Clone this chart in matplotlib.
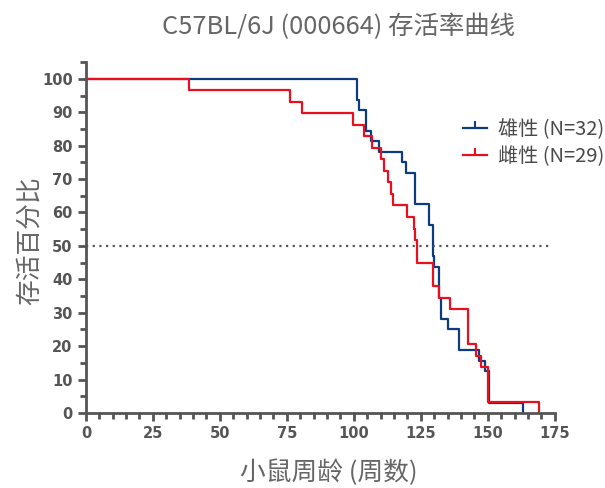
import matplotlib
matplotlib.use('Agg')
import matplotlib.pyplot as plt
from matplotlib.lines import Line2D
from matplotlib.ticker import MultipleLocator

plt.rcParams['font.family'] = ['Noto Sans CJK SC', 'DejaVu Sans']

# 雄性 (N=32): 周龄 / 存活百分比
male_weeks = [0, 101, 102, 104.7, 106.3, 109.3, 117.8, 119.6, 123, 128, 129.4, 130,
              131.8, 132.7, 135, 139.3, 146.7, 149, 150.4, 163]
male_surv = [100, 93.75, 90.6, 84.4, 81.25, 78.1, 75, 71.9, 62.5, 56.25, 46.9, 43.75,
             34.4, 28.1, 25, 18.75, 15.6, 12.5, 3.1, 0]

# 雌性 (N=29)
female_weeks = [0, 38.4, 76, 80.5, 99.7, 103.7, 106.6, 110, 111.3, 112.9, 114, 114.8,
                120, 122.4, 122.8, 123.7, 129.6, 131.7, 135.8, 142.6, 145.7, 147.4,
                149.9, 169.1]
female_surv = [100, 96.6, 93.1, 89.7, 86.2, 82.8, 79.3, 75.9, 72.4, 69.0, 65.5, 62.1,
               58.6, 55.2, 51.7, 44.8, 37.9, 34.5, 31.0, 20.7, 17.2, 13.8, 3.4, 0]

labels = ['雄性 (N=32)', '雌性 (N=29)']
colors = ['#0e3a7e', '#e8101e']
grey = '#555555'

fig = plt.figure(figsize=(6.05, 4.88), dpi=100)
ax = fig.add_axes([0.142, 0.1537, 0.775, 0.719])

ax.step(male_weeks, male_surv, where='post', color=colors[0], lw=1.6)
ax.step(female_weeks, female_surv, where='post', color=colors[1], lw=1.6)
ax.axhline(50, xmin=0, xmax=0.995, color=grey, ls=(0, (1, 2)), lw=1.6)

ax.set_xlim(0, 175)
ax.set_ylim(0, 105)
ax.xaxis.set_major_locator(MultipleLocator(25))
ax.xaxis.set_minor_locator(MultipleLocator(5))
ax.yaxis.set_major_locator(MultipleLocator(10))
ax.yaxis.set_minor_locator(MultipleLocator(5))
ax.set_yticks(range(0, 101, 10))

for s in ['top', 'right']:
    ax.spines[s].set_visible(False)
for s in ['left', 'bottom']:
    ax.spines[s].set_color(grey)
    ax.spines[s].set_linewidth(2)
ax.spines['left'].set_bounds(0, 105)

ax.tick_params(which='major', length=6, width=2, color=grey, labelcolor=grey, labelsize=10.5)
ax.tick_params(which='minor', length=4, width=2, color=grey)
for lab in ax.get_xticklabels() + ax.get_yticklabels():
    lab.set_fontweight('bold')
    lab.set_family(['DejaVu Sans'])

fig.text(0.5 * (160 + 517) / 605, 1 - 27 / 488, 'C57BL/6J (000664) 存活率曲线',
         fontsize=18.3, color='#666666', fontweight='light', ha='center', va='center')
ax.set_xlabel('小鼠周龄 (周数)', fontsize=18.5, color='#666666')
ax.xaxis.set_label_coords((329 - 86) / 469, (413 - 473) / 351)
ax.xaxis.label.set_va('center')
ax.set_ylabel('存活百分比', fontsize=18.5, color='#666666')
ax.yaxis.set_label_coords((30 - 86) / 469, (413 - 241) / 351)
ax.yaxis.label.set_va('center')

handles = [Line2D([], [], color=c, lw=1.6, marker=[(0, 0), (0, 1)], markersize=10,
                  markeredgewidth=1.5) for c in colors]
ax.legend(handles, labels, loc='upper left', bbox_to_anchor=(0.765, 0.89),
          frameon=False, fontsize=14.5, labelcolor='#4a4a4a', handlelength=1.2,
          handletextpad=0.55, labelspacing=0.33)

fig.savefig('out.png', dpi=100)
